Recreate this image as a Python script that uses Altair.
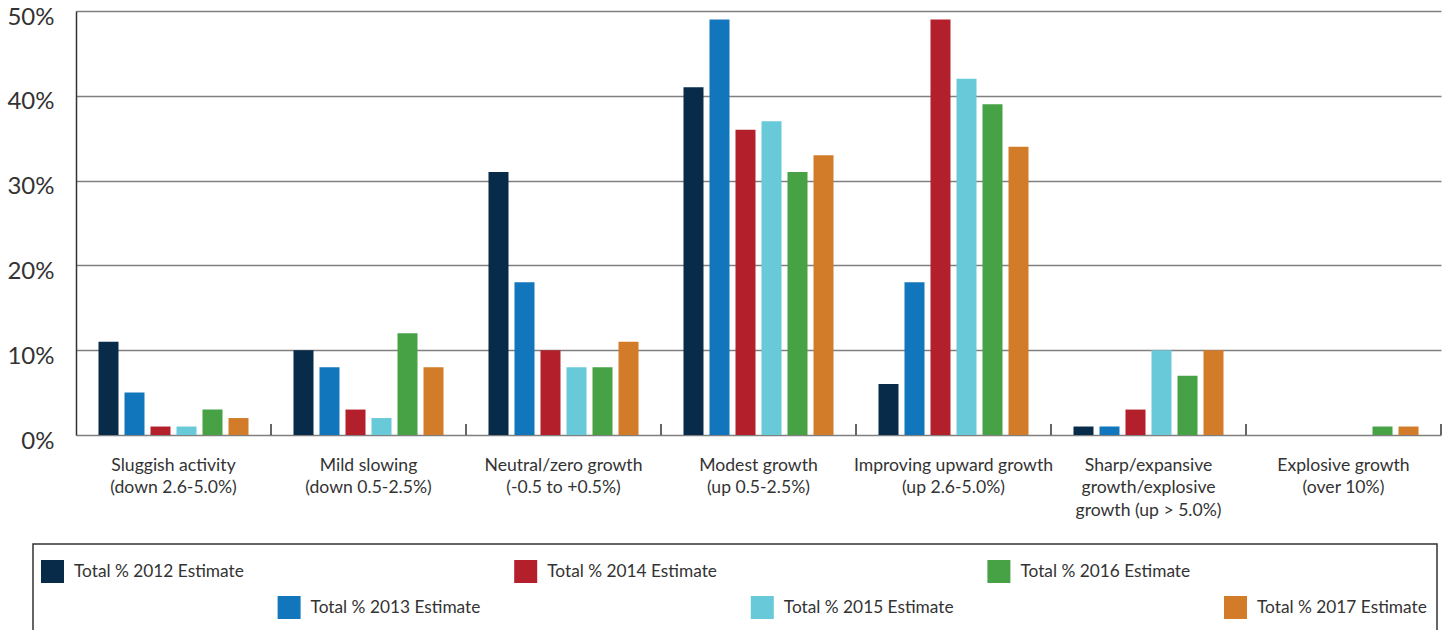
import altair as alt
import pandas as pd

# Growth outlook categories (line breaks mark the wrapped axis labels)
categories = [
    "Sluggish activity\n(down 2.6-5.0%)",
    "Mild slowing\n(down 0.5-2.5%)",
    "Neutral/zero growth\n(-0.5 to +0.5%)",
    "Modest growth\n(up 0.5-2.5%)",
    "Improving upward growth\n(up 2.6-5.0%)",
    "Sharp/expansive\ngrowth/explosive\ngrowth (up > 5.0%)",
    "Explosive growth\n(over 10%)",
]

series = [
    "Total % 2012 Estimate",
    "Total % 2013 Estimate",
    "Total % 2014 Estimate",
    "Total % 2015 Estimate",
    "Total % 2016 Estimate",
    "Total % 2017 Estimate",
]
colors = ["#072b49", "#1276bc", "#b31f2a", "#68cad8", "#46a245", "#d27c2a"]

# Share of respondents (%) per category, one list per estimate year
values_2012 = [11, 10, 31, 41, 6, 1, 0]
values_2013 = [5, 8, 18, 49, 18, 1, 0]
values_2014 = [1, 3, 10, 36, 49, 3, 0]
values_2015 = [1, 2, 8, 37, 42, 10, 0]
values_2016 = [3, 12, 8, 31, 39, 7, 1]
values_2017 = [2, 8, 11, 33, 34, 10, 1]

y_ticks = [0, 10, 20, 30, 40, 50]

all_values = [values_2012, values_2013, values_2014, values_2015, values_2016, values_2017]
rows = []
for name, vals in zip(series, all_values):
    for cat, v in zip(categories, vals):
        rows.append({"category": cat, "series": name, "value": v})
bar_df = pd.DataFrame(rows)
cat_df = pd.DataFrame({"category": categories})
legend_df = pd.DataFrame({
    "series": series,
    "slot": list(range(len(series))),
    "row": [i % 2 for i in range(len(series))],
})

FONT = "Lato"
TEXT = "#333333"

x_scale = alt.Scale(domain=categories, paddingInner=0, paddingOuter=0)
color_scale = alt.Scale(domain=series, range=colors)

bars = alt.Chart(bar_df).mark_bar().encode(
    x=alt.X(
        "category:N",
        scale=x_scale,
        axis=alt.Axis(
            title=None, labelAngle=0, ticks=False, domain=False,
            labelExpr="split(datum.label, '\\n')",
            labelFontSize=17.6, labelLineHeight=22.5, labelColor=TEXT,
            labelPadding=21, labelLimit=400, labelBaseline="top",
        ),
    ),
    xOffset=alt.XOffset("series:N", sort=series,
                        scale=alt.Scale(paddingInner=0.2308, paddingOuter=0.865)),
    y=alt.Y(
        "value:Q",
        scale=alt.Scale(domain=[0, 50], nice=False),
        axis=alt.Axis(
            title=None, values=y_ticks, ticks=False,
            labelExpr="datum.value + '%'",
            labelFontSize=24, labelColor=TEXT, labelPadding=22, labelOffset=6,
            domainColor=TEXT, domainWidth=1.5,
            gridColor="#808080", gridWidth=1.6,
        ),
    ),
    color=alt.Color("series:N", scale=color_scale, legend=None),
)

# Short ticks at the right edge of each category band
band_ticks = alt.Chart(cat_df).mark_rule(color=TEXT, strokeWidth=1.5).encode(
    x=alt.X("category:N", scale=x_scale, bandPosition=1, title=None),
    y=alt.value(413),
    y2=alt.value(424),
)

plot = alt.layer(bars, band_ticks)

# Staggered legend below the plot
legend_x = alt.X("slot:Q", scale=alt.Scale(domain=[0, 5], range=[-23.5, 1159.5]), axis=None)
legend_y = alt.Y("row:Q", scale=alt.Scale(domain=[0, 1], range=[560.5, 596.5]), axis=None)

frame = alt.Chart(pd.DataFrame({"k": [0]})).mark_rect(
    fill="white", fillOpacity=0, stroke=TEXT, strokeWidth=1.5
).encode(
    x=alt.value(-43), x2=alt.value(1361), y=alt.value(533), y2=alt.value(680)
)

swatches = alt.Chart(legend_df).mark_square(size=529, opacity=1).encode(
    x=legend_x, y=legend_y,
    color=alt.Color("series:N", scale=color_scale, legend=None),
)

names = alt.Chart(legend_df).mark_text(
    align="left", baseline="middle", dx=21.5, fontSize=17.3, color=TEXT
).encode(x=legend_x, y=legend_y, text="series:N")

chart = alt.layer(plot, frame, swatches, names).resolve_scale(
    x="independent", y="independent"
).properties(
    width=1365,
    height=424,
    autosize=alt.AutoSizeParams(type="none"),
    padding={"left": 76, "top": 11, "right": 7, "bottom": 195},
    background="white",
).configure(
    font=FONT,
).configure_view(stroke=None)

chart.save("out.html", embed_options={"renderer": "svg", "actions": False})
